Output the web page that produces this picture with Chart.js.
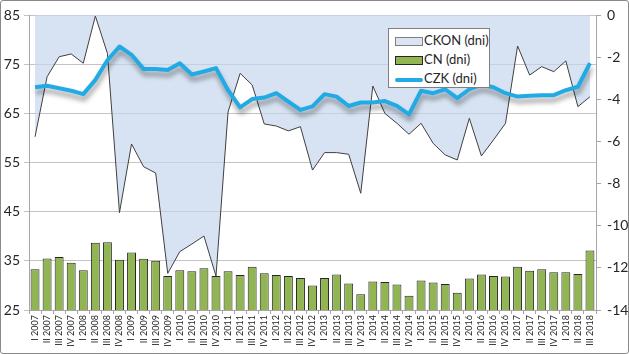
<!DOCTYPE html>
<html>
<head>
<meta charset="utf-8">
<script src="https://cdn.jsdelivr.net/npm/chart.js@4"></script>
<style>
  body { margin: 0; background: #fff; }
  #wrap { position: relative; width: 629px; height: 354px; }
  #chart { position: absolute; left: 0; top: 0; }
  #frame { position: absolute; left: 0; top: 0; width: 629px; height: 354px; box-sizing: border-box;
           border: 1px solid #8a8a8a; border-radius: 3px; pointer-events: none; }
  #legend { position: absolute; left: 388px; top: 28px; width: 102px; height: 60px; box-sizing: border-box;
            border: 1px solid #7f7f7f; background: #fff; font: 13px Lato, "Open Sans", sans-serif; color: #262626; }
  .item { position: absolute; left: 6px; height: 18px; line-height: 18px; white-space: nowrap; }
  .sw { display: inline-block; width: 28px; vertical-align: middle; margin-right: 1px; box-sizing: border-box; }
</style>
</head>
<body>
<div id="wrap">
  <canvas id="chart" width="629" height="354"></canvas>
  <div id="legend"></div>
  <div id="frame"></div>
</div>
<script>
const labels = [
  'I 2007', 'II 2007', 'III 2007', 'IV 2007', 'I 2008', 'II 2008', 'III 2008', 'IV 2008',
  'I 2009', 'II 2009', 'III 2009', 'IV 2009', 'I 2010', 'II 2010', 'III 2010', 'IV 2010',
  'I 2011', 'II 2011', 'III 2011', 'IV 2011', 'I 2012', 'II 2012', 'III 2012', 'IV 2012',
  'I 2013', 'II 2013', 'III 2013', 'IV 2013', 'I 2014', 'II 2014', 'III 2014', 'IV 2014',
  'I 2015', 'II 2015', 'III 2015', 'IV 2015', 'I 2016', 'II 2016', 'III 2016', 'IV 2016',
  'I 2017', 'II 2017', 'III 2017', 'IV 2017', 'I 2018', 'II 2018', 'III 2018'
];

// CKON (dni) - prawa oś
const ckon = [
  -5.78, -2.93, -1.98, -1.85, -2.29, -0.05, -1.82, -9.38,
  -6.12, -7.2, -7.5, -12.26, -11.23, -10.87, -10.49, -12.39,
  -4.6, -2.77, -3.32, -5.17, -5.27, -5.5, -5.3, -7.36,
  -6.53, -6.53, -6.61, -8.46, -3.37, -4.67, -5.14, -5.66,
  -5.14, -6.09, -6.64, -6.88, -4.9, -6.69, -5.93, -5.14,
  -1.47, -2.85, -2.45, -2.69, -2.18, -4.35, -3.88
];

// CN (dni) - lewa oś
const cn = [
  33.3, 35.5, 35.8, 34.6, 33.1, 38.7, 38.8, 35.2,
  36.7, 35.4, 35.0, 31.9, 33.1, 32.9, 33.5, 31.9,
  32.9, 32.1, 33.8, 32.5, 32.1, 31.9, 31.5, 30.0,
  31.5, 32.2, 30.4, 28.2, 30.8, 30.7, 30.2, 27.9,
  31.0, 30.6, 30.3, 28.5, 31.4, 32.2, 31.9, 31.8,
  33.8, 33.0, 33.3, 32.7, 32.7, 32.3, 37.1
];

// CZK (dni) - lewa oś
const czk = [
  70.3, 70.6, 70.1, 69.6, 68.9, 71.8, 75.8, 78.6,
  76.9, 74.0, 74.0, 73.8, 75.2, 72.9, 73.5, 74.2,
  69.7, 66.2, 67.9, 68.2, 69.1, 67.4, 65.7, 66.4,
  68.9, 68.4, 66.5, 67.2, 67.2, 67.5, 66.5, 64.8,
  69.6, 69.1, 69.9, 68.1, 69.9, 70.8, 70.3, 69.1,
  68.4, 68.6, 68.7, 68.7, 69.7, 70.4, 75.2
];

const colors = {
  area: 'rgba(196, 213, 236, 0.68)',
  areaLine: '#3f3f3f',
  bar: '#92B554',
  barEdge: '#262626',
  line: '#22AAE4',
  grid: '#c4c4c4',
  axis: '#a6a6a6',
  text: '#262626'
};
const font = 'Lato, "Open Sans", sans-serif';

const lineShadow = {
  id: 'lineShadow',
  beforeDatasetDraw(chart, args) {
    if (!chart.data.datasets[args.index].shadow) return;
    const c = chart.ctx;
    c.save();
    c.shadowColor = 'rgba(0,0,0,0.38)';
    c.shadowBlur = 5;
    c.shadowOffsetX = 1;
    c.shadowOffsetY = 5;
  },
  afterDatasetDraw(chart, args) {
    if (chart.data.datasets[args.index].shadow) chart.ctx.restore();
  }
};

const chart = new Chart(document.getElementById('chart'), {
  type: 'bar',
  data: {
    labels,
    datasets: [
      {
        type: 'line', label: 'CKON (dni)', data: ckon, yAxisID: 'y2', order: 3,
        borderColor: colors.areaLine, borderWidth: 1, backgroundColor: colors.area,
        fill: 'end', pointRadius: 0, tension: 0
      },
      {
        type: 'bar', label: 'CN (dni)', data: cn, yAxisID: 'y', order: 2,
        backgroundColor: colors.bar, borderColor: colors.barEdge, borderWidth: 1,
        categoryPercentage: 1, barPercentage: 0.74
      },
      {
        type: 'line', label: 'CZK (dni)', data: czk, yAxisID: 'y', order: 1,
        borderColor: colors.line, borderWidth: 4, pointRadius: 0, tension: 0,
        fill: false, shadow: true, borderJoinStyle: 'round'
      }
    ]
  },
  options: {
    responsive: false,
    animation: false,
    devicePixelRatio: 1,
    layout: { padding: { top: 15, left: 0, right: 0, bottom: 0 } },
    plugins: { legend: { display: false }, tooltip: { enabled: false } },
    scales: {
      x: {
        offset: true,
        grid: { display: true, drawOnChartArea: false, tickLength: 4, color: colors.axis, offset: true },
        border: { color: colors.axis },
        ticks: { autoSkip: false, maxRotation: 90, minRotation: 90, padding: 1,
                 color: colors.text, font: { family: font, size: 9 } },
        afterFit(s) { s.height = 44; }
      },
      y: {
        position: 'left', min: 25, max: 85,
        ticks: { stepSize: 10, padding: 4, color: colors.text, font: { family: font, size: 14 } },
        grid: { color: colors.grid, tickLength: 5 },
        border: { color: colors.axis },
        afterFit(s) { s.width = 29; }
      },
      y2: {
        position: 'right', min: -14, max: 0,
        ticks: { stepSize: 2, padding: 6, color: colors.text, font: { family: font, size: 14 } },
        grid: { drawOnChartArea: false, color: colors.axis, tickLength: 5 },
        border: { color: colors.axis },
        afterFit(s) { s.width = 33; }
      }
    }
  },
  plugins: [lineShadow]
});

// legenda
const legend = document.getElementById('legend');
const swatches = [
  'height:9px;background:#dbe4f1;border:1px solid #7f7f7f;',
  'height:9px;background:' + colors.bar + ';border:1px solid ' + colors.barEdge + ';',
  'height:4px;background:' + colors.line + ';border-radius:2px;'
];
chart.data.datasets.forEach((ds, i) => {
  const row = document.createElement('div');
  row.className = 'item';
  row.style.top = (2 + i * 19) + 'px';
  row.innerHTML = '<span class="sw" style="' + swatches[i] + '"></span>' + ds.label;
  legend.appendChild(row);
});
</script>
</body>
</html>
